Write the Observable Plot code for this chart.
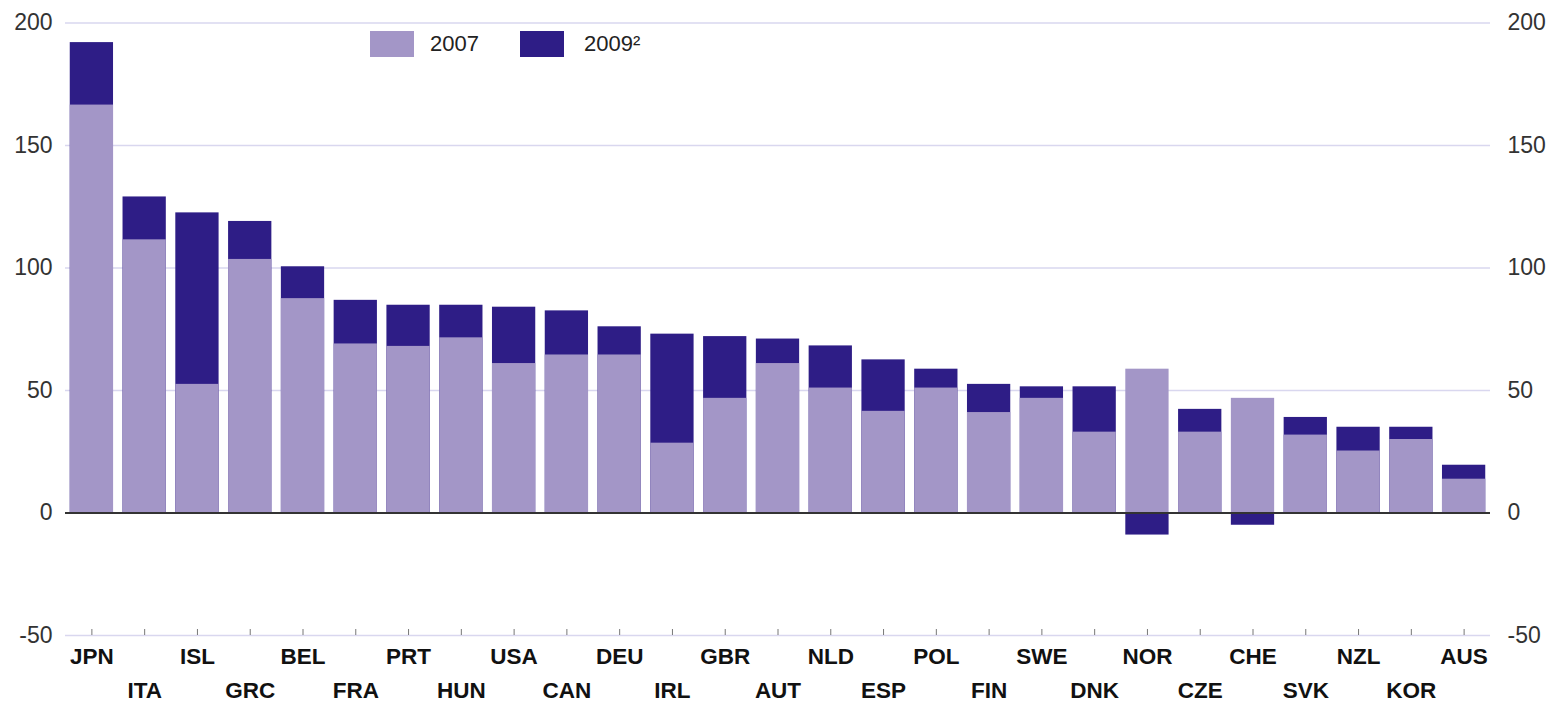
<!DOCTYPE html>
<html>
<head>
<meta charset="utf-8">
<script src="https://cdn.jsdelivr.net/npm/d3@7"></script>
<script src="https://cdn.jsdelivr.net/npm/@observablehq/plot@0.6"></script>
<style>
  html, body { margin: 0; padding: 0; background: #fff; }
  #wrap { position: relative; width: 1558px; height: 702px; overflow: hidden; }
  .leg { position: absolute; top: 31px; display: flex; align-items: center; font-family: "Liberation Sans", Arial, sans-serif; font-size: 22px; color: #222; }
  .sw { width: 44px; height: 26px; }
</style>
</head>
<body>
<div id="wrap">
  <div class="leg" style="left:370px"><div class="sw" style="background:#a396c7;margin-right:16px"></div><span>2007</span></div>
  <div class="leg" style="left:520px"><div class="sw" style="background:#2e1d86;margin-right:20px"></div><span>2009²</span></div>
</div>
<script>
const countries = ["JPN","ITA","ISL","GRC","BEL","FRA","PRT","HUN","USA","CAN","DEU","IRL","GBR","AUT","NLD","ESP","POL","FIN","SWE","DNK","NOR","CZE","CHE","SVK","NZL","KOR","AUS"];
const v2007 = [166.5, 111.5, 52.5, 103.5, 87.5, 69, 68, 71.5, 61, 64.5, 64.5, 28.5, 46.8, 61, 51, 41.5, 51, 41, 46.8, 33, 58.7, 33, 46.8, 31.8, 25.3, 30, 13.8];
const v2009 = [192, 129, 122.5, 119, 100.5, 86.8, 84.8, 84.8, 84, 82.5, 76, 73, 72, 71, 68.2, 62.5, 58.7, 52.5, 51.5, 51.5, -9, 42.3, -5, 39, 35, 35, 19.5];
const yTicks = [-50, 0, 50, 100, 150, 200];

const data = countries.map((c, i) => ({country: c, v2007: v2007[i], v2009: v2009[i], row: i % 2}));

const chart = Plot.plot({
  width: 1558,
  height: 702,
  marginTop: 22.5,
  marginBottom: 67,
  marginLeft: 65,
  marginRight: 68,
  style: {fontFamily: "'Liberation Sans', Arial, sans-serif", fontSize: "23px", color: "#333", background: "#fff", overflow: "visible"},
  x: {domain: countries, paddingInner: 0.18, paddingOuter: 0.09, round: false, axis: null, label: null},
  y: {domain: [-50, 200], axis: null, label: null},
  marks: [
    Plot.gridY(yTicks, {stroke: "#d9d7ef", strokeOpacity: 1, strokeWidth: 1.5}),
    Plot.barY(data, {x: "country", y: "v2009", fill: "#2e1d86"}),
    Plot.barY(data, {x: "country", y: "v2007", fill: "#a396c7"}),
    Plot.ruleY([0], {stroke: "#333", strokeWidth: 2}),
    Plot.axisY(yTicks, {anchor: "left", tickSize: 0, tickPadding: 13, fontSize: 23, fill: "#333", tickFormat: d => String(d), label: null}),
    Plot.axisY(yTicks, {anchor: "right", tickSize: 0, tickPadding: 17, fontSize: 23, fill: "#333", tickFormat: d => String(d), label: null}),
    Plot.axisX({tickSize: 6, dy: -6, tickFormat: () => "", stroke: "#777", label: null}),
    Plot.text(data.filter(d => d.row === 0), {x: "country", text: "country", frameAnchor: "bottom", lineAnchor: "bottom", dy: 28, fontSize: 22.5, fontWeight: "bold", fill: "#111"}),
    Plot.text(data.filter(d => d.row === 1), {x: "country", text: "country", frameAnchor: "bottom", lineAnchor: "bottom", dy: 62, fontSize: 22.5, fontWeight: "bold", fill: "#111"})
  ]
});
document.getElementById("wrap").prepend(chart);
</script>
</body>
</html>
